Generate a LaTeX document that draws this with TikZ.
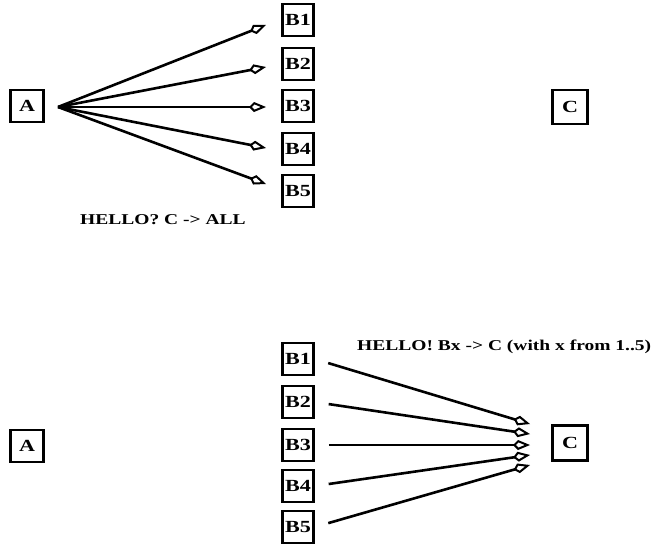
\documentclass[tikz,border=0pt]{standalone}
\usepackage{fontspec}
\usetikzlibrary{arrows.meta}
\newfontfamily\lblfont[FakeStretch=1.3]{Liberation Serif}
\tikzset{
  box/.style={draw, line width=2.6pt, inner sep=0pt, minimum width=31pt, minimum height=32pt,
              font=\lblfont\bfseries\fontsize{17}{20}\selectfont},
  msg/.style={line width=2.6pt, -{Kite[open, length=17pt, width=10pt, inset=5pt, line width=2pt]}},
  caption/.style={font=\lblfont\bfseries\fontsize{15}{18}\selectfont, inner sep=0pt}
}
\begin{document}
\begin{tikzpicture}[x=1pt, y=-1pt]
  \useasboundingbox (0,0) rectangle (653,544);

  % --- first phase: A sends to every B
  \node[box, minimum width=33pt] (A1) at (27,106) {A};
  \node[box] (T1) at (298,20) {B1};
  \node[box] (T2) at (298,64) {B2};
  \node[box] (T3) at (298,106) {B3};
  \node[box] (T4) at (298,149) {B4};
  \node[box] (T5) at (298,191) {B5};
  \node[box, minimum width=35pt, minimum height=34pt] (C1) at (570,107) {C};
  \coordinate (fan) at (58,107);
  \coordinate (e1) at (266,25);
  \coordinate (e2) at (266,67);
  \coordinate (e3) at (266,107);
  \coordinate (e4) at (266,148);
  \coordinate (e5) at (266,184);
  \foreach \i in {1,...,5} \draw[msg] (fan) -- (e\i);
  \node[caption] (cap1) at (163,220) {HELLO? C -{}> ALL};

  % --- second phase: every B answers C
  \node[box, minimum width=33pt] (A2) at (27,446) {A};
  \node[box] (S1) at (298,359) {B1};
  \node[box] (S2) at (298,402) {B2};
  \node[box] (S3) at (298,445) {B3};
  \node[box] (S4) at (298,486) {B4};
  \node[box] (S5) at (298,527) {B5};
  \node[box, minimum width=35pt, minimum height=35pt] (C2) at (570,443) {C};
  \coordinate (f1) at (530,424);
  \coordinate (f2) at (530,434);
  \coordinate (f3) at (530,445);
  \coordinate (f4) at (530,455);
  \coordinate (f5) at (530,465);
  \foreach \i in {1,...,5} \draw[msg, shorten <=14pt] (S\i.east) -- (f\i);
  \node[caption, anchor=west] (cap2) at (357,347) {HELLO! Bx -{}> C (with x from 1..5)};
\end{tikzpicture}
\end{document}
